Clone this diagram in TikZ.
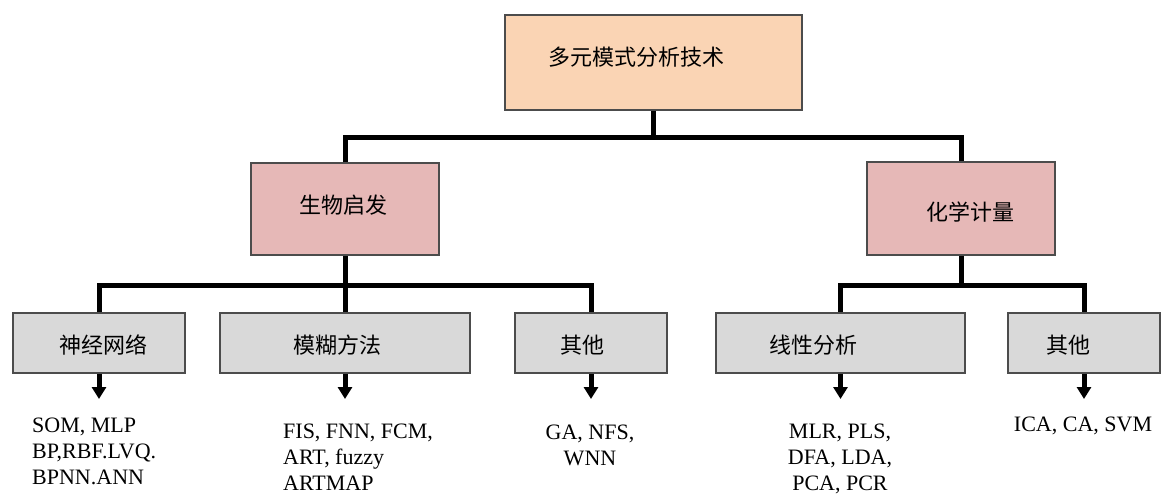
\documentclass[tikz,border=0pt]{standalone}
\usepackage{fontspec}
\setmainfont{Liberation Serif}
\newfontfamily\cjk{Noto Sans CJK SC}
\usetikzlibrary{arrows.meta}
\definecolor{peach}{RGB}{250,212,180}
\definecolor{rose}{RGB}{230,184,183}
\definecolor{greybox}{RGB}{217,217,217}
\begin{document}
\begin{tikzpicture}[x=1pt,y=-1pt,
  box/.style={draw=black!70, line width=1.8pt, inner sep=0pt},
  topbox/.style={box, fill=peach},
  midbox/.style={box, fill=rose},
  lowbox/.style={box, fill=greybox, minimum height=60pt},
  cjktext/.style={font=\cjk\fontsize{22}{26}\selectfont, inner sep=0pt},
  latin/.style={font=\fontsize{22}{26}\selectfont, inner sep=0pt},
  conn/.style={line width=5pt, black},
  arr/.style={line width=5pt, black, -{Triangle[width=14pt,length=12pt]}}]
\useasboundingbox (0,0) rectangle (1161,495);
\fill[white] (0,0) rectangle (1161,495);

% boxes
\node[topbox, minimum width=297pt, minimum height=95pt] (top) at (653.5,62.5) {};
\node[midbox, minimum width=188pt, minimum height=92pt] (bio) at (345,209) {};
\node[midbox, minimum width=188pt, minimum height=93pt] (chem) at (961,208.5) {};
\node[lowbox, minimum width=172pt] (nn) at (99,343) {};
\node[lowbox, minimum width=250pt] (fz) at (345,343) {};
\node[lowbox, minimum width=152pt] (ot1) at (591,343) {};
\node[lowbox, minimum width=249pt] (lin) at (840.5,343) {};
\node[lowbox, minimum width=152pt] (ot2) at (1084,343) {};

% box texts
\node[cjktext] (ttop) at (636,57) {多元模式分析技术};
\node[cjktext] (tbio) at (343,205) {生物启发};
\node[cjktext] (tchem) at (970,212) {化学计量};
\node[cjktext] (tnn) at (103,345) {神经网络};
\node[cjktext] (tfz) at (337,345) {模糊方法};
\node[cjktext] (tot1) at (582,345) {其他};
\node[cjktext] (tlin) at (813,345) {线性分析};
\node[cjktext] (tot2) at (1068,345) {其他};

% junctions
\coordinate (j1) at (653.5,137);
\coordinate (j2) at (345,285);
\coordinate (j3) at (961,285);

% connectors
\draw[conn] (top.south) -- (j1);
\draw[conn] (bio.north) |- (j1) -| (chem.north);
\draw[conn] (bio.south) -- (fz.north);
\draw[conn] (nn.north) |- (j2) -| (ot1.north);
\draw[conn] (chem.south) -- (j3);
\draw[conn] (lin.north) |- (j3) -| (ot2.north);

% arrow ends
\coordinate (a1) at (99,399);
\coordinate (a2) at (345,399);
\coordinate (a3) at (591,399);
\coordinate (a4) at (840.5,399);
\coordinate (a5) at (1084,399);
\draw[arr] (nn.south) -- (a1);
\draw[arr] (fz.south) -- (a2);
\draw[arr] (ot1.south) -- (a3);
\draw[arr] (lin.south) -- (a4);
\draw[arr] (ot2.south) -- (a5);

% method lists
\node[latin, anchor=north west, align=left] (lnn) at (32,418) {SOM, MLP\\BP,RBF.LVQ.\\BPNN.ANN};
\node[latin, anchor=north west, align=left] (lfz) at (283,424) {FIS, FNN, FCM,\\ART, fuzzy\\ARTMAP};
\node[latin, anchor=north, align=center] (lot1) at (590,425) {GA, NFS,\\WNN};
\node[latin, anchor=north, align=center] (llin) at (840,424) {MLR, PLS,\\DFA, LDA,\\PCA, PCR};
\node[latin, anchor=north] (lot2) at (1083,417) {ICA, CA, SVM};
\end{tikzpicture}
\end{document}
